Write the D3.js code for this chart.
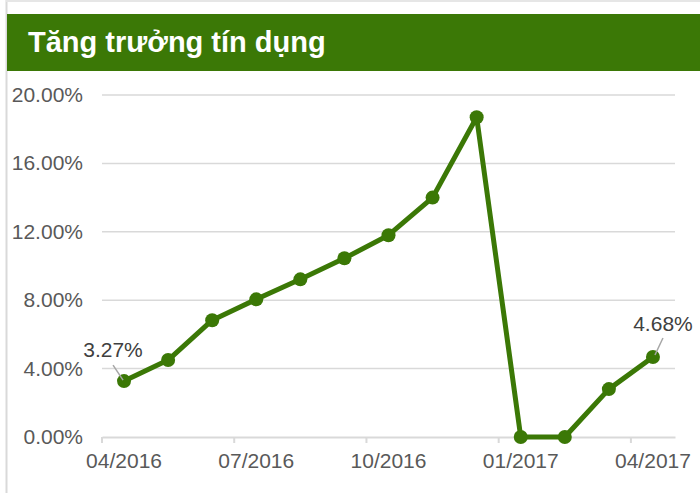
<!DOCTYPE html>
<html><head><meta charset="utf-8">
<script src="https://cdn.jsdelivr.net/npm/d3@7"></script>
<style>body{margin:0;background:#fff;}svg{display:block;font-family:"Liberation Sans",Arial,sans-serif;}</style>
</head><body>
<svg id="c" width="700" height="493"></svg>
<script>
const title = "Tăng trưởng tín dụng";
const months = ["04/2016","05/2016","06/2016","07/2016","08/2016","09/2016","10/2016","11/2016","12/2016","01/2017","02/2017","03/2017","04/2017"];
const values = [3.27, 4.5, 6.83, 8.05, 9.22, 10.45, 11.8, 14.0, 18.7, 0, 0, 2.8, 4.68];
const yTicks = [0, 4, 8, 12, 16, 20];
const xTickLabels = ["04/2016","07/2016","10/2016","01/2017","04/2017"];
const labeled = {"04/2016":"3.27%","04/2017":"4.68%"};

const svg = d3.select("#c");
const green = "#3b7806";
const fs = "21px";
// frame
svg.append("line").attr("x1",6.5).attr("x2",6.5).attr("y1",0).attr("y2",493).attr("stroke","#d9d9d9").attr("stroke-width",2);
svg.append("line").attr("x1",6).attr("x2",700).attr("y1",1).attr("y2",1).attr("stroke","#e6e6e6").attr("stroke-width",2);
svg.append("rect").attr("x",7).attr("y",14).attr("width",693).attr("height",57).attr("fill",green);
svg.append("text").attr("x",28).attr("y",52).attr("fill","#fff").style("font-size","29px").attr("font-weight","bold").text(title);

const x = d3.scaleBand().domain(months).range([102,675]);
const y = d3.scaleLinear().domain([0,20]).range([437,95]);

// gridlines
svg.append("g").selectAll("line").data(yTicks.filter(d=>d>0)).join("line")
  .attr("x1",102).attr("x2",675).attr("y1",d=>y(d)).attr("y2",d=>y(d)).attr("stroke","#d9d9d9").attr("stroke-width",1.5);
// y labels
svg.append("g").selectAll("text").data(yTicks).join("text")
  .attr("x",83).attr("y",d=>y(d)+7).attr("text-anchor","end").style("font-size",fs).attr("fill","#595959")
  .text(d=>d.toFixed(2)+"%");
// x axis
const xa = d3.axisBottom(x).tickValues(xTickLabels).tickSize(6).tickSizeOuter(0);
const gx = svg.append("g").attr("transform","translate(0,437)").call(xa);
gx.attr("font-size",null).attr("font-family",null);
gx.select(".domain").attr("stroke","#d9d9d9").attr("stroke-width",2);
gx.selectAll(".tick line").attr("stroke","#d9d9d9").attr("stroke-width",2)
  .attr("transform",d=>`translate(${-x.bandwidth()/2},0)`);
gx.selectAll(".tick text").style("font-size",fs).attr("fill","#595959").attr("y",31).attr("dy",0);
// outer-left tick
svg.append("line").attr("x1",102).attr("x2",102).attr("y1",437).attr("y2",443).attr("stroke","#d9d9d9").attr("stroke-width",2);

const cx = d => x(d) + x.bandwidth()/2;
const line = d3.line().x((d,i)=>cx(months[i])).y(d=>y(d));
svg.append("path").datum(values).attr("d",line).attr("fill","none").attr("stroke",green).attr("stroke-width",5).attr("stroke-linejoin","round");
svg.append("g").selectAll("circle").data(values).join("circle")
  .attr("cx",(d,i)=>cx(months[i])).attr("cy",d=>y(d)).attr("r",7).attr("fill",green);

// data labels
const lab = [
  {m:"04/2016", v:values[0], dx:-11, dy:-24, lx1:-11, ly1:-16, lx2:-1, ly2:-1},
  {m:"04/2017", v:values[12], dx:10, dy:-26, lx1:10, ly1:-19, lx2:2, ly2:-2}
];
lab.forEach(l=>{
  const px = cx(l.m), py = y(l.v);
  svg.append("line").attr("x1",px+l.lx1).attr("y1",py+l.ly1).attr("x2",px+l.lx2).attr("y2",py+l.ly2).attr("stroke","#a6a6a6").attr("stroke-width",1.5);
  svg.append("text").attr("x",px+l.dx).attr("y",py+l.dy).attr("text-anchor","middle").style("font-size",fs).attr("fill","#404040").text(labeled[l.m]);
});
</script>
</body></html>
